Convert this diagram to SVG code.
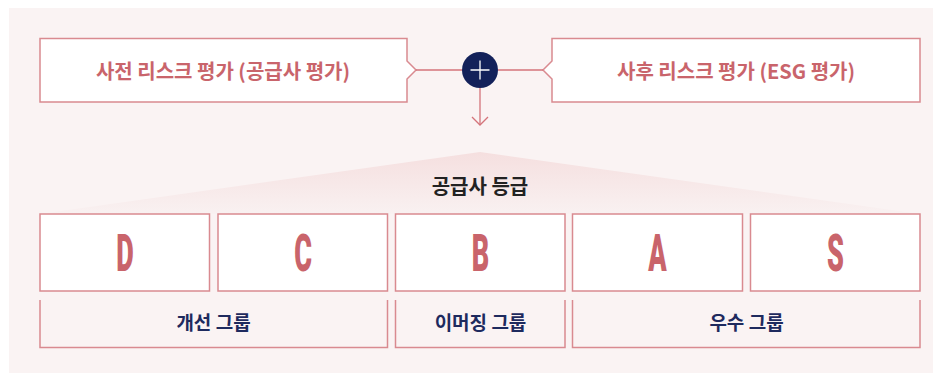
<svg xmlns="http://www.w3.org/2000/svg" width="942" height="374" viewBox="0 0 942 374">
  <defs>
    <linearGradient id="triGrad" x1="0" y1="152" x2="0" y2="214" gradientUnits="userSpaceOnUse">
      <stop offset="0" stop-color="#f5dfdf"/>
      <stop offset="1" stop-color="#f9f1f1"/>
    </linearGradient>
    <marker id="arrow" viewBox="0 0 20 20" refX="10" refY="10" markerWidth="20" markerHeight="20" markerUnits="userSpaceOnUse" orient="auto">
      <path d="M2,2 L10,10 L2,18" fill="none" stroke="#d4737a" stroke-width="1.3"/>
    </marker>
    <style>
      .kr { font-family: "Noto Sans CJK KR", "Noto Sans", sans-serif; font-weight: 700; text-anchor: middle; }
      .eval { fill: #c9646b; font-size: 20px; }
      .group-label { fill: #1e2a5e; font-size: 19px; }
      .title { fill: #222222; font-size: 20px; }
      .box { fill: #ffffff; stroke: #d98a90; stroke-width: 1.5; }
      .grp { fill: none; stroke: #d98a90; stroke-width: 1.5; }
      .grade { font-family: Roboto, "Liberation Sans", sans-serif; font-weight: 900; font-size: 52px; fill: #c9646b; text-anchor: middle; }
      .conn { stroke: #d4737a; stroke-width: 1.3; fill: none; }
    </style>
  </defs>

  <rect x="9" y="8" width="924" height="365" fill="#faf3f3"/>

  <g id="pre-risk">
    <path class="box" d="M40,38.5 H407 V61 L416,70 L407,79 V102 H40 Z"/>
    <text class="kr eval" x="223" y="78.5">사전 리스크 평가 (공급사 평가)</text>
  </g>

  <g id="post-risk">
    <path class="box" d="M552,38.5 H920 V102 H552 V79 L543,70 L552,61 Z"/>
    <text class="kr eval" x="736" y="78.5">사후 리스크 평가 (ESG 평가)</text>
  </g>

  <g id="connectors">
    <line class="conn" x1="416" y1="70" x2="462" y2="70"/>
    <line class="conn" x1="498" y1="70" x2="543" y2="70"/>
    <line class="conn" x1="480" y1="88" x2="480" y2="125" marker-end="url(#arrow)"/>
  </g>

  <g id="plus">
    <circle cx="480" cy="70" r="18" fill="#13215a"/>
    <path d="M470.5,70 H489.5 M480,60.5 V79.5" stroke="#ffffff" stroke-width="1.3" fill="none"/>
  </g>

  <g id="grade-title">
    <polygon points="480,152 920,214 40,214" fill="url(#triGrad)"/>
    <text class="kr title" x="480" y="193.5">공급사 등급</text>
  </g>

  <g id="grade-D">
    <rect class="box" x="40" y="214" width="169.5" height="77"/>
    <text class="grade" transform="translate(125,271) scale(0.52,1)">D</text>
  </g>
  <g id="grade-C">
    <rect class="box" x="218" y="214" width="169.5" height="77"/>
    <text class="grade" transform="translate(303,271) scale(0.52,1)">C</text>
  </g>
  <g id="grade-B">
    <rect class="box" x="395.5" y="214" width="169.5" height="77"/>
    <text class="grade" transform="translate(480.5,271) scale(0.52,1)">B</text>
  </g>
  <g id="grade-A">
    <rect class="box" x="572.5" y="214" width="170" height="77"/>
    <text class="grade" transform="translate(657.5,271) scale(0.52,1)">A</text>
  </g>
  <g id="grade-S">
    <rect class="box" x="750.5" y="214" width="169.5" height="77"/>
    <text class="grade" transform="translate(835.5,271) scale(0.52,1)">S</text>
  </g>

  <g id="group-improve">
    <path class="grp" d="M40,300 V347.5 H387.5 V300"/>
    <text class="kr group-label" x="213.5" y="329.5">개선 그룹</text>
  </g>
  <g id="group-emerging">
    <path class="grp" d="M395.5,300 V347.5 H565 V300"/>
    <text class="kr group-label" x="480.5" y="329.5">이머징 그룹</text>
  </g>
  <g id="group-excellent">
    <path class="grp" d="M572.5,300 V347.5 H920 V300"/>
    <text class="kr group-label" x="746.5" y="329.5">우수 그룹</text>
  </g>
</svg>
